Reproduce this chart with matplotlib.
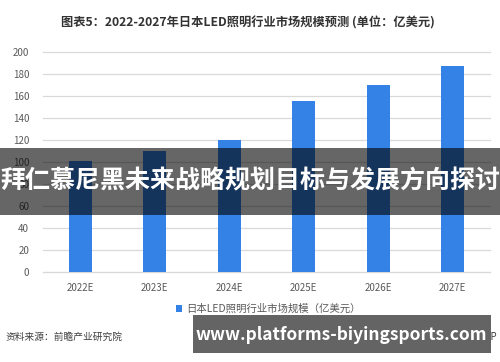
import matplotlib
matplotlib.use("Agg")
import matplotlib.pyplot as plt
from matplotlib.patches import Rectangle

plt.rcParams['font.family'] = ['Noto Sans CJK SC', 'DejaVu Sans']

categories = ["2022E", "2023E", "2024E", "2025E", "2026E", "2027E"]
values = [101, 110, 120, 155, 170, 187]
yticks = [0, 20, 40, 60, 80, 100, 120, 140, 160, 180, 200]
title = "图表5：2022-2027年日本LED照明行业市场规模预测 (单位：亿美元)"
legend_label = "日本LED照明行业市场规模（亿美元）"
source = "资料来源：前瞻产业研究院"
app = "前瞻经济学人APP"
banner = "拜仁慕尼黑未来战略规划目标与发展方向探讨"
url = "www.platforms-biyingsports.com"

W, H = 500, 362
fig = plt.figure(figsize=(W / 100, H / 100), dpi=100)
ax = fig.add_axes([43 / W, 1 - 271.7 / H, 447 / W, 220 / H])

bars = ax.bar(range(len(categories)), values, width=0.31, color="#3582E6",
              label=legend_label, zorder=3)
ax.set_xlim(-0.5, len(categories) - 0.5)
ax.set_ylim(0, 200)
ax.set_yticks(yticks)
ax.set_xticks(range(len(categories)))
ax.set_xticklabels(categories)
ax.yaxis.grid(True, color="#d9d9d9", linewidth=0.9, zorder=0, clip_on=False)
for s in ["left", "right", "top"]:
    ax.spines[s].set_visible(False)
ax.spines["bottom"].set_color("#d9d9d9")
ax.tick_params(axis="both", length=0, colors="#595959", labelsize=7)
ax.tick_params(axis="y", pad=10)
ax.tick_params(axis="x", pad=8)

fig.text(248 / W, 1 - 23 / H, title, ha="center", va="center", fontsize=8.8,
         fontweight="bold", color="#333333")

leg = fig.legend(handles=[bars], labels=[legend_label], loc="center",
                 bbox_to_anchor=(268 / W, 1 - 309 / H), frameon=False,
                 fontsize=7.5, handlelength=0.6, handleheight=0.6,
                 handletextpad=0.4, labelcolor="#595959")

fig.text(6 / W, 1 - 337 / H, source, ha="left", va="center", fontsize=7,
         color="#404040")
fig.text(497 / W, 1 - 337 / H, app, ha="right", va="center", fontsize=7,
         color="#404040")

# overlay banners
fig.patches.append(Rectangle((0, 1 - 215 / H), 1, 66.7 / H, transform=fig.transFigure,
                             facecolor="black", alpha=0.6, zorder=10))
fig.text(250 / W, 1 - 181 / H, banner, ha="center", va="center", fontsize=18,
         fontweight="bold", color="white", zorder=11)
fig.patches.append(Rectangle((193 / W, 1 - 352.7 / H), 297.7 / W, 37.7 / H,
                             transform=fig.transFigure, facecolor="#646464", zorder=10))
fig.text(341 / W, 1 - 334.5 / H, url, ha="center", va="center", fontsize=12.5,
         fontweight="bold", color="white", zorder=11)

fig.savefig("out.png", dpi=100)
